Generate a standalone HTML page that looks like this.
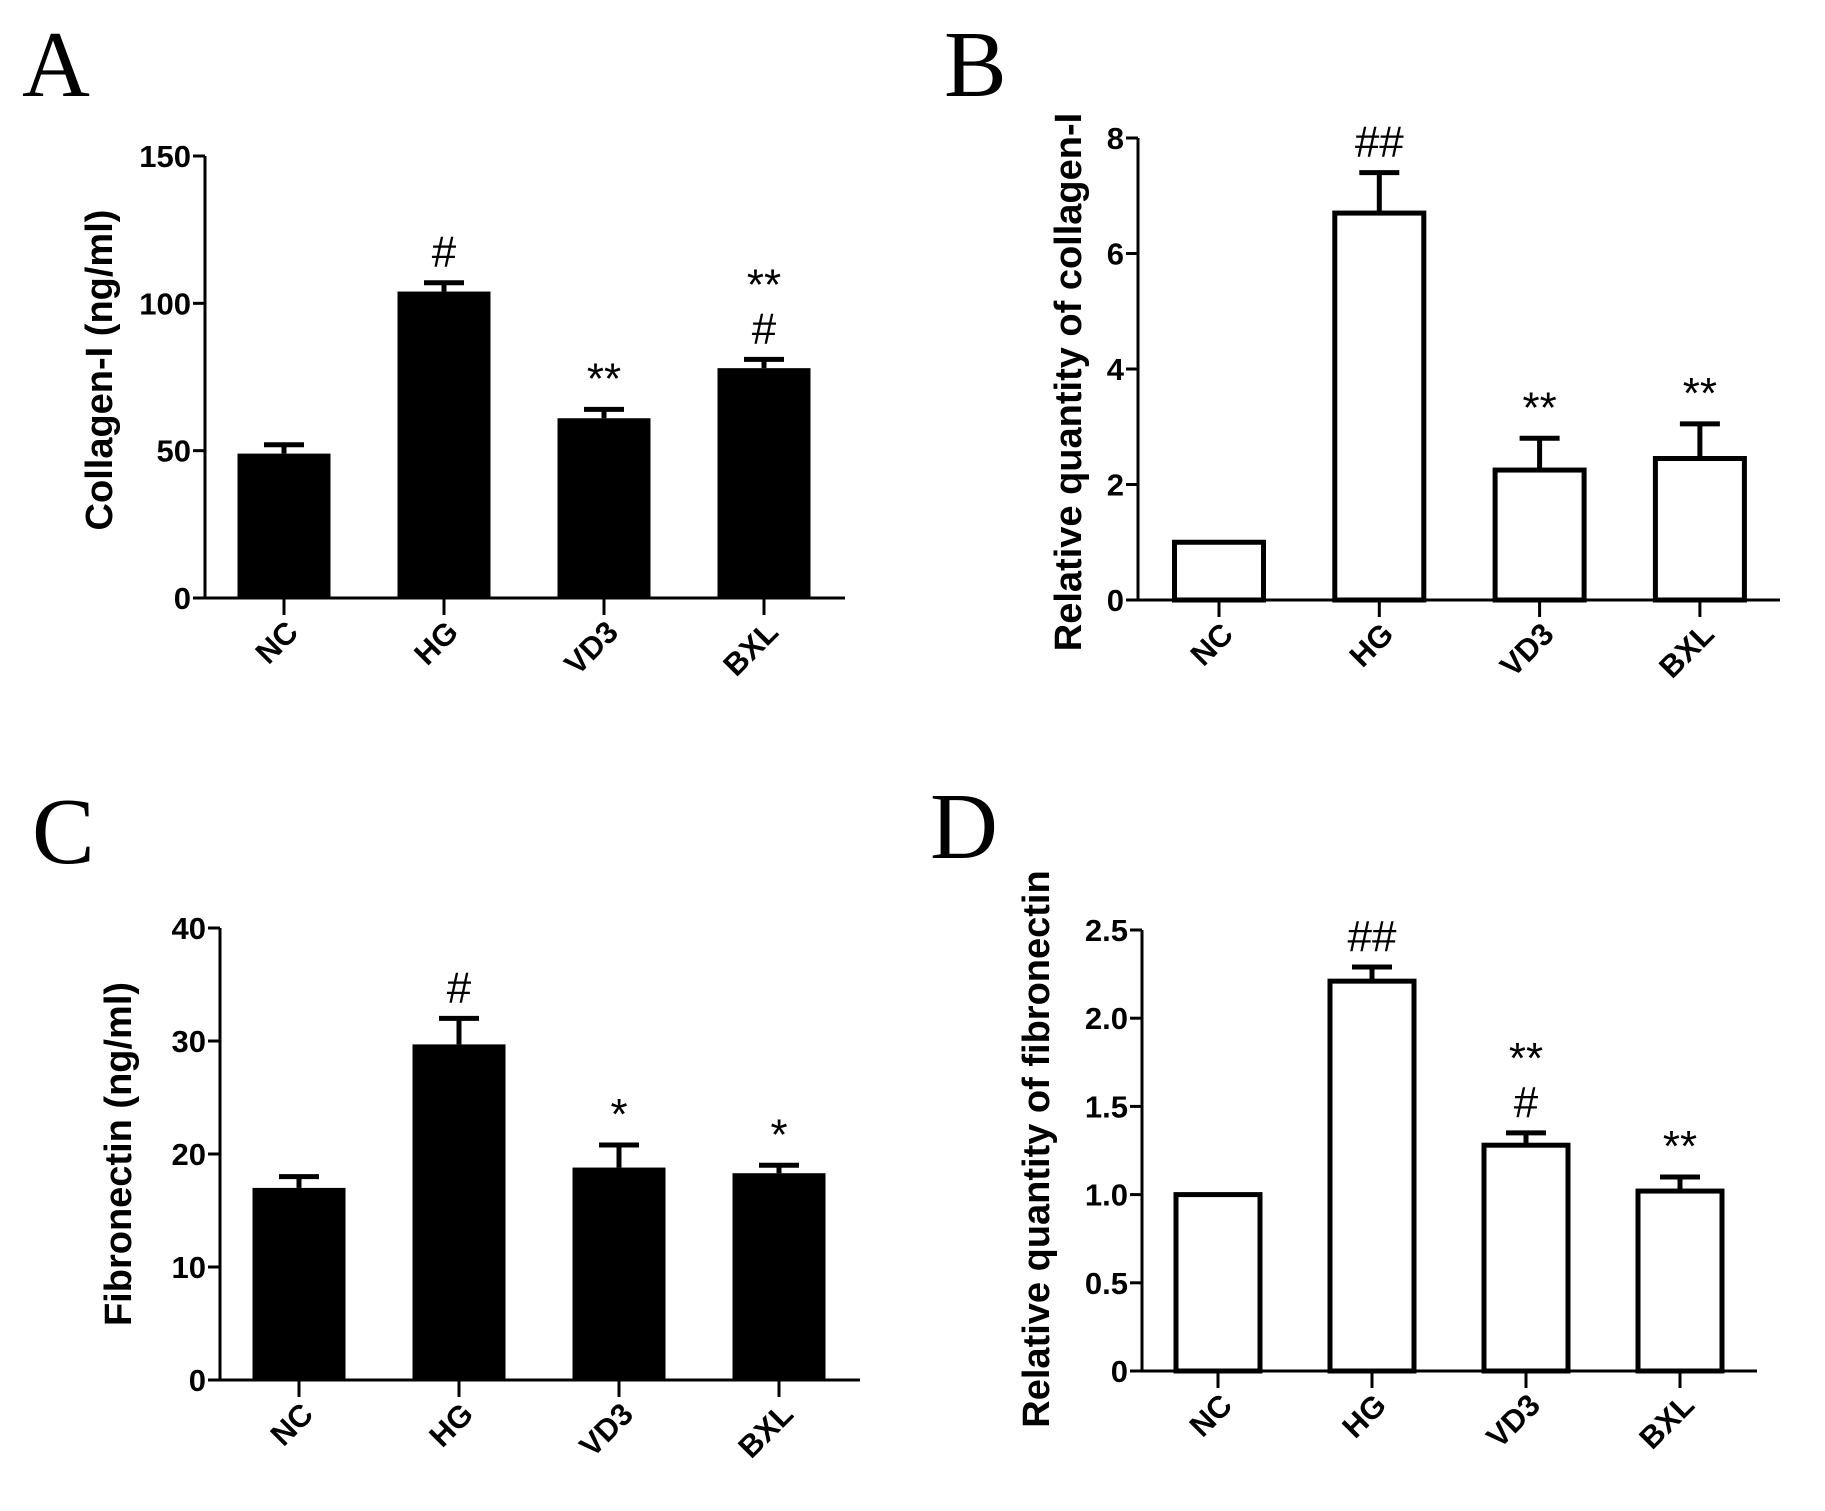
<!DOCTYPE html>
<html><head><meta charset="utf-8"><style>
html,body{margin:0;padding:0;background:#fff;}
svg{display:block;font-family:"Liberation Sans",Arial,sans-serif;}
</style></head><body>
<svg id="fig" width="1825" height="1511" viewBox="0 0 1825 1511" xmlns="http://www.w3.org/2000/svg"></svg>
<script>
const categories = ["NC","HG","VD3","BXL"];
const valuesA = [49, 104, 61, 78];
const errA = [52, 107, 64, 81];
const annA = [[], ["#"], ["**"], ["#","**"]];
const ticksA = [0, 50, 100, 150];
const valuesB = [1.0, 6.7, 2.25, 2.45];
const errB = [1.0, 7.4, 2.8, 3.05];
const annB = [[], ["##"], ["**"], ["**"]];
const ticksB = [0, 2, 4, 6, 8];
const valuesC = [17, 29.7, 18.8, 18.3];
const errC = [18, 32, 20.8, 19];
const annC = [[], ["#"], ["*"], ["*"]];
const ticksC = [0, 10, 20, 30, 40];
const valuesD = [1.0, 2.21, 1.28, 1.02];
const errD = [1.0, 2.29, 1.35, 1.10];
const annD = [[], ["##"], ["#","**"], ["**"]];
const ticksD = [0, 0.5, 1.0, 1.5, 2.0, 2.5];
const tickLabelsD = ["0","0.5","1.0","1.5","2.0","2.5"];

const NS = "http://www.w3.org/2000/svg";
const svg = document.getElementById('fig');
function mk(tag, attrs, parent){
  const e = document.createElementNS(NS, tag);
  for (const k in attrs) e.setAttribute(k, attrs[k]);
  (parent||svg).appendChild(e);
  return e;
}
const panels = [
  {id:'a', letter:'A', lx:22, ly:96, ax:205, y0:598, yTop:156, xEnd:845, c0:284, step:160, bw:93, max:150,
   vals:valuesA, errs:errA, ann:annA, ticks:ticksA, tl:ticksA.map(String), filled:true,
   title:'Collagen-I (ng/ml)', tx:100, ty:370},
  {id:'b', letter:'B', lx:944, ly:96, ax:1138, y0:600, yTop:138, xEnd:1780, c0:1219, step:160.3, bw:94, max:8,
   vals:valuesB, errs:errB, ann:annB, ticks:ticksB, tl:ticksB.map(String), filled:false,
   title:'Relative quantity of collagen-I', tx:1069, ty:382},
  {id:'c', letter:'C', lx:32, ly:863, ax:220, y0:1380, yTop:928, xEnd:860, c0:299, step:160, bw:93, max:40,
   vals:valuesC, errs:errC, ann:annC, ticks:ticksC, tl:ticksC.map(String), filled:true,
   title:'Fibronectin (ng/ml)', tx:119, ty:1154},
  {id:'d', letter:'D', lx:930, ly:858, ax:1142, y0:1371, yTop:930, xEnd:1757, c0:1218, step:154, bw:89, max:2.5,
   vals:valuesD, errs:errD, ann:annD, ticks:ticksD, tl:tickLabelsD, filled:false,
   title:'Relative quantity of  fibronectin', tx:1037, ty:1149}
];
panels.forEach(p => {
  const g = mk('g', {});
  
  
  const yS = v => p.y0 - (v / p.max) * (p.y0 - p.yTop);
  const xS = i => p.c0 + i * p.step;
  const L = mk('text', {x:p.lx, y:p.ly, 'font-family':'"Liberation Serif",serif', 'font-size':94}, g);
  L.textContent = p.letter;
  
  
  p.vals.forEach((v, i) => {
    const x = xS(i), top = yS(v), et = yS(p.errs[i]);
    if (p.errs[i] > v) {
      const eb = mk('path', {d:`M${x} ${top}V${et}M${x-20} ${et}H${x+20}`, stroke:'#000', 'stroke-width':5, fill:'none'}, g);
      
      
    }
    const r = p.filled
      ? mk('rect', {x:x-p.bw/2, y:top, width:p.bw, height:p.y0-top, fill:'#000'}, g)
      : mk('rect', {x:x-p.bw/2+2.5, y:top, width:p.bw-5, height:p.y0-top, fill:'#fff', stroke:'#000', 'stroke-width':5}, g);
    
    
    p.ann[i].forEach((s, k) => {
      const t = mk('text', {x:x, y:et - 16 - k*44, 'text-anchor':'middle', 'font-size':44, 'font-family':'"Liberation Sans",sans-serif'}, g);
      t.textContent = s;
      
      
    });
    const tk = mk('line', {x1:x, y1:p.y0, x2:x, y2:p.y0+17, stroke:'#000', 'stroke-width':3}, g);
    
    
    const cl = mk('text', {x:x+16, y:p.y0+36, 'text-anchor':'end', 'font-size':31, 'font-weight':'bold', transform:`rotate(-45 ${x+16} ${p.y0+36})`}, g);
    cl.textContent = categories[i];
    
    
  });
  const ya = mk('line', {x1:p.ax, y1:p.yTop, x2:p.ax, y2:p.y0+1.5, stroke:'#000', 'stroke-width':3}, g);
  
  
  const xa = mk('line', {x1:p.ax-12, y1:p.y0, x2:p.xEnd, y2:p.y0, stroke:'#000', 'stroke-width':3}, g);
  
  
  p.ticks.forEach((v, k) => {
    const y = yS(v);
    const t = mk('line', {x1:p.ax-12, y1:y, x2:p.ax, y2:y, stroke:'#000', 'stroke-width':3}, g);
    
    
    const tl = mk('text', {x:p.ax-14, y:y+11, 'text-anchor':'end', 'font-size':31, 'font-weight':'bold'}, g);
    tl.textContent = p.tl[k];
    
    
  });
  const tt = mk('text', {x:p.tx, y:p.ty, 'text-anchor':'middle', 'dominant-baseline':'central', 'font-size':38, 'font-weight':'bold', transform:`rotate(-90 ${p.tx} ${p.ty})`}, g);
  tt.textContent = p.title;
  
  
});
</script>
</body></html>
